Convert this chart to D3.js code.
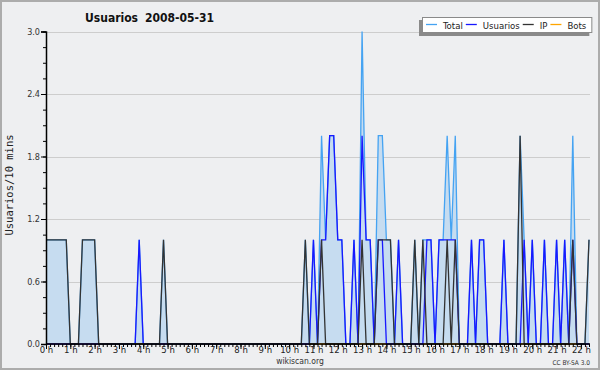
<!DOCTYPE html>
<html><head><meta charset="utf-8">
<script src="https://cdn.jsdelivr.net/npm/d3@7"></script>
<style>
html,body{margin:0;padding:0;background:#eeeff1;}
svg{display:block;}
text{font-family:"DejaVu Sans Condensed","DejaVu Sans",sans-serif;}
</style></head><body>
<svg id="c" width="600" height="370"></svg>
<script>
// 10-minute slots, 0h00 .. 22h20
const hourLabels = ["0 h","1 h","2 h","3 h","4 h","5 h","6 h","7 h","8 h","9 h","10 h","11 h","12 h","13 h","14 h","15 h","16 h","17 h","18 h","19 h","20 h","21 h","22 h"];
const yTicks = [0.0, 0.6, 1.2, 1.8, 2.4, 3.0];
const seriesNames = ["Total", "Usuarios", "IP", "Bots"];

const total = [
  1,1,1,1,1,1,0,0,0,1,
  1,1,1,0,0,0,0,0,0,0,
  0,0,0,1,0,0,0,0,0,1,
  0,0,0,0,0,0,0,0,0,0,
  0,0,0,0,0,0,0,0,0,0,
  0,0,0,0,0,0,0,0,0,0,
  0,0,0,0,1,0,1,0,2,1,
  2,2,1,1,0,0,1,0,3,1,
  1,0,2,2,1,1,0,1,0,0,
  0,1,0,1,1,1,0,1,1,2,
  1,2,0,0,0,1,0,1,1,0,
  0,0,0,1,0,0,0,2,1,0,
  1,0,0,1,0,0,1,0,1,0,
  2,0,0,0,1
];
const usuarios = [
  0,0,0,0,0,0,0,0,0,0,
  0,0,0,0,0,0,0,0,0,0,
  0,0,0,1,0,0,0,0,0,0,
  0,0,0,0,0,0,0,0,0,0,
  0,0,0,0,0,0,0,0,0,0,
  0,0,0,0,0,0,0,0,0,0,
  0,0,0,0,0,0,1,0,1,1,
  2,2,1,1,0,0,1,0,2,1,
  1,0,1,1,0,0,0,1,0,0,
  0,0,0,0,1,1,0,1,1,1,
  1,1,0,0,0,1,0,1,1,0,
  0,0,0,1,0,0,0,0,1,0,
  1,0,0,1,0,0,1,0,1,0,
  1,0,0,0,0
];
const ip = [
  1,1,1,1,1,1,0,0,0,1,
  1,1,1,0,0,0,0,0,0,0,
  0,0,0,0,0,0,0,0,0,1,
  0,0,0,0,0,0,0,0,0,0,
  0,0,0,0,0,0,0,0,0,0,
  0,0,0,0,0,0,0,0,0,0,
  0,0,0,0,1,0,0,0,1,0,
  0,0,0,0,0,0,0,0,1,0,
  0,0,1,1,1,1,0,0,0,0,
  0,1,0,1,0,0,0,0,0,1,
  0,1,0,0,0,0,0,0,0,0,
  0,0,0,0,0,0,0,2,0,0,
  0,0,0,0,0,0,0,0,0,0,
  1,0,0,0,1
];
const bots = [
  0,0,0,0,0,0,0,0,0,0, 0,0,0,0,0,0,0,0,0,0, 0,0,0,0,0,0,0,0,0,0,
  0,0,0,0,0,0,0,0,0,0, 0,0,0,0,0,0,0,0,0,0, 0,0,0,0,0,0,0,0,0,0,
  0,0,0,0,0,0,0,0,0,0, 0,0,0,0,0,0,0,0,0,0, 0,0,0,0,0,0,0,0,0,0,
  0,0,0,0,0,0,0,0,0,0, 0,0,0,0,0,0,0,0,0,0, 0,0,0,0,0,0,0,0,0,0,
  0,0,0,0,0,0,0,0,0,0, 0,0,0,0,0
];

const colors = {Total:"#45a3f2", Usuarios:"#1818ff", IP:"#333333", Bots:"#ffa500"};

const svg = d3.select("#c");
const W = 600, H = 370;
const minutes = total.map((_, i) => i * 10);

const x = d3.scaleLinear().domain([0, 1340]).range([46, 589]);
const y = d3.scaleLinear().domain([0, 3]).range([344, 31.5]);

// background + border
svg.append("rect").attr("x",0).attr("y",0).attr("width",W).attr("height",H).attr("fill","#eeeff1");
svg.append("rect").attr("x",1).attr("y",1).attr("width",W-2).attr("height",H-2)
  .attr("fill","none").attr("stroke","#acacac").attr("stroke-width",2);

// grid
svg.append("g").selectAll("line").data(yTicks.filter(d => d > 0)).join("line")
  .attr("x1", 46).attr("x2", 590)
  .attr("y1", d => Math.round(y(d)) + 0.5).attr("y2", d => Math.round(y(d)) + 0.5)
  .attr("stroke", "#cdcdcd").attr("stroke-width", 1);

// area under total
const area = d3.area().x((d, i) => x(minutes[i])).y0(y(0)).y1(d => y(d));
svg.append("path").datum(total).attr("d", area).attr("fill", "#c6dcf0");

const line = d3.line().x((d, i) => x(minutes[i])).y(d => y(d));
const series = [["Bots", bots], ["Total", total], ["Usuarios", usuarios], ["IP", ip]];
series.forEach(([name, vals]) => {
  svg.append("path").datum(vals).attr("d", line)
    .attr("fill", "none").attr("stroke", colors[name]).attr("stroke-width", 1.3)
    .attr("stroke-linejoin", "miter");
});

// Y axis
const yMinor = svg.append("g").attr("transform", "translate(46,0)")
  .call(d3.axisLeft(y).tickValues(d3.range(0, 3.001, 0.15)).tickSize(3).tickFormat(""));
yMinor.select(".domain").remove();
const yAxis = svg.append("g").attr("transform", "translate(46,0)")
  .call(d3.axisLeft(y).tickValues(yTicks).tickSize(5).tickPadding(1).tickFormat(d3.format(".1f")));
yAxis.attr("font-family", null);
yAxis.selectAll("text").attr("font-size", 9).attr("fill", "#333");
[yMinor, yAxis].forEach(g => g.selectAll(".tick line").attr("stroke", "#000").attr("stroke-width", 1));
yAxis.select(".domain").attr("stroke", "#000").attr("stroke-width", 1.5);

// X axis
const xMinor = svg.append("g").attr("transform", "translate(0,344)")
  .call(d3.axisBottom(x).tickValues(d3.range(0, 1341, 10)).tickSize(3).tickFormat(""));
xMinor.select(".domain").remove();
const xAxis = svg.append("g").attr("transform", "translate(0,344)")
  .call(d3.axisBottom(x).tickValues(hourLabels.map((_, i) => i * 60)).tickSize(5)
    .tickFormat((d, i) => hourLabels[i]));
xAxis.attr("font-family", null);
xAxis.selectAll("text").attr("y", 2).attr("dy", "0.71em").attr("font-size", 9.5).attr("fill", "#222");
xAxis.select(".domain").attr("d", "M46,0H590").attr("stroke", "#000").attr("stroke-width", 1.5);
[xMinor, xAxis].forEach(g => g.selectAll(".tick line").attr("stroke", "#000").attr("stroke-width", 1));

// Title
svg.append("text").attr("x", 85).attr("y", 21.5).attr("font-weight", "bold").attr("font-size", 12)
  .attr("fill", "#111").text("Usuarios");
svg.append("text").attr("x", 145).attr("y", 21.5).attr("font-weight", "bold").attr("font-size", 12)
  .attr("fill", "#111").text("2008-05-31");

// Y label
svg.append("text").attr("transform", "translate(13,185) rotate(-90)")
  .attr("text-anchor", "middle").attr("font-size", 10.5).style("font-family", "'DejaVu Sans Mono', monospace")
  .attr("fill", "#222").text("Usuarios/10 mins");

// footer
svg.append("text").attr("x", 300).attr("y", 363.5).attr("text-anchor", "middle")
  .attr("font-size", 8.5).attr("fill", "#333").text("wikiscan.org");
svg.append("text").attr("x", 590).attr("y", 365).attr("text-anchor", "end")
  .attr("font-size", 6.5).attr("fill", "#333").text("CC BY-SA 3.0");

// Legend
const leg = svg.append("g");
const shadow = leg.append("rect").attr("fill", "#8a8a8a");
const box = leg.append("rect").attr("fill", "#fff").attr("stroke", "#8a8a8a").attr("stroke-width", 1);
let lx = 426;
seriesNames.forEach(name => {
  leg.append("line").attr("x1", lx).attr("x2", lx + 11).attr("y1", 24.5).attr("y2", 24.5)
    .attr("stroke", colors[name]).attr("stroke-width", 1.3);
  const t = leg.append("text").attr("x", lx + 17).attr("y", 28.5).attr("font-size", 9.5)
    .attr("fill", "#222").text(name);
  lx = lx + 17 + t.node().getComputedTextLength() + 3;
});
const bw = Math.min(lx + 2, 593) - 422;
box.attr("x", 422.5).attr("y", 17.5).attr("width", bw).attr("height", 15);
shadow.attr("x", 419).attr("y", 20).attr("width", bw + 1).attr("height", 16);
</script>
</body></html>
